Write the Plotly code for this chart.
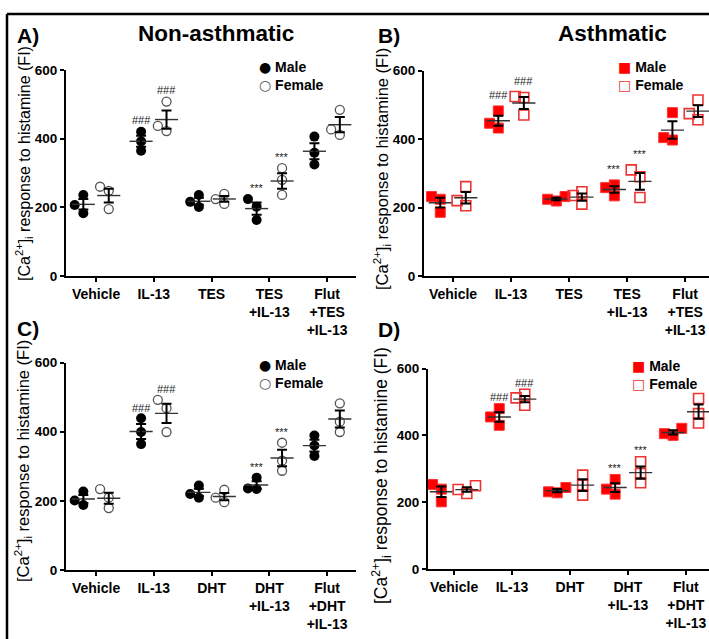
import plotly.graph_objects as go
import numpy as np

W, H = 709, 639

# ---------------- data ----------------
CATS_TES = ["Vehicle", "IL-13", "TES", "TES<br>+IL-13", "Flut<br>+TES<br>+IL-13"]
CATS_DHT = ["Vehicle", "IL-13", "DHT", "DHT<br>+IL-13", "Flut<br>+DHT<br>+IL-13"]
Y_TICKS = [0, 200, 400, 600]

A_male = [[183, 236, 207], [420, 392, 365], [236, 201, 216], [224, 202, 163], [406, 359, 325]]
A_female = [[248, 260, 195], [422, 508, 437], [239, 210, 224], [314, 280, 236], [411, 484, 427]]
B_male = [[224, 186, 232], [432, 482, 446], [219, 232, 224], [266, 234, 258], [397, 477, 404]]
B_female = [[205, 261, 220], [521, 470, 524], [246, 210, 235], [290, 310, 229], [456, 514, 474]]
C_male = [[188, 227, 201], [439, 399, 364], [209, 244, 220], [234, 267, 236], [389, 360, 330]]
C_female = [[234, 209, 179], [492, 468, 399], [232, 196, 209], [368, 316, 287], [482, 429, 399]]
D_male = [[239, 201, 253], [480, 455, 430], [228, 244, 231], [224, 268, 239], [421, 400, 405]]
D_female = [[249, 226, 238], [512, 490, 523], [281, 221, 251], [321, 286, 258], [510, 465, 437]]

# significance marks: (category index, text)
SIG = [(1, "###"), (3, "***")]

# ---------------- helpers ----------------
def px(x):
    return x / W

def py(y):
    return 1 - y / H

FONT = "Arial, Liberation Sans, sans-serif"

panels = [
    dict(k="", male=A_male, female=A_female, cats=CATS_TES, xd=(66, 356), yd=(70, 276),
         xr=[-0.52, 4.5], red=False, pad=33),
    dict(k="2", male=B_male, female=B_female, cats=CATS_TES, xd=(424, 709), yd=(70.5, 276),
         xr=[-0.5, 4.41], red=True, pad=46),
    dict(k="3", male=C_male, female=C_female, cats=CATS_DHT, xd=(66, 356), yd=(362.5, 570),
         xr=[-0.52, 4.5], red=False, pad=30),
    dict(k="4", male=D_male, female=D_female, cats=CATS_DHT, xd=(428, 709), yd=(368.5, 569),
         xr=[-0.45, 4.4], red=True, pad=34),
]

SEX_OFF = 0.22
HALF_MEAN = 0.2
SPREAD = 0.15


def swarm(vals, center, ppu, unit_px):
    """simple beeswarm: spread overlapping points horizontally"""
    order = np.argsort(vals)
    placed = []
    xs = [0.0] * len(vals)
    for i in order:
        v = vals[i]
        best, best_d = center, -1
        for k in [0, -1, 1]:
            x = center + k * SPREAD
            dmin = 1e9
            for (xx, vv) in placed:
                dx = (x - xx) * unit_px
                dy = (v - vv) * ppu
                dmin = min(dmin, (dx * dx + dy * dy) ** 0.5)
            if dmin >= 9.0:
                best = x
                break
            if dmin > best_d:
                best, best_d = x, dmin
        xs[i] = best
        placed.append((best, v))
    return xs


fig = go.Figure()
annotations = []

for p in panels:
    xa = "x" + p["k"]
    ya = "y" + p["k"]
    ppu = (p["yd"][1] - p["yd"][0]) / 600.0
    unit_px = (p["xd"][1] - p["xd"][0]) / (p["xr"][1] - p["xr"][0])
    if p["red"]:
        m_marker = dict(symbol="square", size=10, color="#ff0000",
                        line=dict(color="#ff3333", width=1))
        f_marker = dict(symbol="square-open", size=10, color="#ee3333",
                        line=dict(width=1.6))
    else:
        m_marker = dict(symbol="circle", size=10, color="#000000")
        f_marker = dict(symbol="circle", size=9, color="white",
                        line=dict(color="#555555", width=1.3))

    for sex, data, marker, off in [("Male", p["male"], m_marker, -SEX_OFF),
                                   ("Female", p["female"], f_marker, SEX_OFF)]:
        xs, ys = [], []
        means, sems, centers = [], [], []
        mx, my = [], []
        for ci, vals in enumerate(data):
            c = ci + off
            xs += swarm(vals, c, ppu, unit_px)
            ys += vals
            arr = np.array(vals, dtype=float)
            m = arr.mean()
            s = arr.std(ddof=1) / np.sqrt(len(arr))
            means.append(m)
            sems.append(s)
            centers.append(c)
            mx += [c - HALF_MEAN, c + HALF_MEAN, None]
            my += [m, m, None]
        fig.add_trace(go.Scatter(x=xs, y=ys, mode="markers", marker=marker,
                                 xaxis=xa, yaxis=ya, showlegend=False, cliponaxis=False))
        fig.add_trace(go.Scatter(x=mx, y=my, mode="lines",
                                 line=dict(color="#333333", width=1.4),
                                 xaxis=xa, yaxis=ya, showlegend=False, cliponaxis=False))
        fig.add_trace(go.Scatter(x=centers, y=means, mode="markers",
                                 marker=dict(size=1, color="rgba(0,0,0,0)"),
                                 error_y=dict(type="data", array=sems, color="black",
                                              thickness=2, width=5),
                                 xaxis=xa, yaxis=ya, showlegend=False, cliponaxis=False))
        for ci, txt in SIG:
            annotations.append(dict(x=ci + off, y=max(data[ci]) + p["pad"], xref=xa, yref=ya,
                                    text=txt, showarrow=False,
                                    font=dict(family=FONT, size=11, color="#222222"),
                                    xanchor="center", yanchor="middle"))

    axis_common = dict(showline=True, linecolor="black", linewidth=2, ticks="outside",
                       ticklen=4, tickwidth=2, tickcolor="black", showgrid=False,
                       zeroline=False, automargin=False)
    fig.update_layout(**{
        ("xaxis" + p["k"]): dict(domain=[px(p["xd"][0]), px(p["xd"][1])], range=p["xr"],
                                 tickvals=list(range(5)), ticktext=p["cats"],
                                 anchor=ya,
                                 tickfont=dict(family=FONT, size=14, color="black", weight="bold"),
                                 **axis_common),
        ("yaxis" + p["k"]): dict(domain=[py(p["yd"][1]), py(p["yd"][0])], range=[0, 600],
                                 tickvals=Y_TICKS, anchor=xa,
                                 tickfont=dict(family=FONT, size=13.5, color="black", weight="bold"),
                                 **axis_common),
    })

# ---------------- texts ----------------
YTITLE = "[Ca<sup>2+</sup>]<sub>i</sub> response to histamine (FI)"
for (x, y, s) in [(24, 164, 16), (382, 169, 16.5), (23, 461, 16.5), (381, 476, 17.5)]:
    annotations.append(dict(x=px(x), y=py(y), xref="paper", yref="paper", text=YTITLE,
                            textangle=-90, showarrow=False,
                            font=dict(family=FONT, size=s, color="black"),
                            xanchor="center", yanchor="middle"))

for (t, x, y) in [("A)", 15, 35), ("B)", 376, 35), ("C)", 15, 328), ("D)", 376, 329)]:
    annotations.append(dict(x=px(x), y=py(y), xref="paper", yref="paper", text="<b>%s</b>" % t,
                            showarrow=False, font=dict(family=FONT, size=21, color="black"),
                            xanchor="left", yanchor="middle"))

for (t, x, y) in [("Non-asthmatic", 216, 34), ("Asthmatic", 612, 34)]:
    annotations.append(dict(x=px(x), y=py(y), xref="paper", yref="paper", text="<b>%s</b>" % t,
                            showarrow=False, font=dict(family=FONT, size=22.5, color="black"),
                            xanchor="center", yanchor="middle"))

# legends (glyph + label in one text, two lines)
legs = [
    (257, 75.5, "●", "○", "black", "#555555"),
    (616, 75.5, "■", "□", "#ff0000", "#ee3333"),
    (257, 374, "●", "○", "black", "#555555"),
    (630, 375, "■", "□", "#ff0000", "#ee3333"),
]
for (x, yc, g1, g2, c1, c2) in legs:
    txt = ("<span style='font-family:DejaVu Sans;color:%s'>%s</span> <b>Male</b><br>"
           "<span style='font-family:DejaVu Sans;color:%s'>%s</span> <b>Female</b>"
           % (c1, g1, c2, g2))
    annotations.append(dict(x=px(x), y=py(yc), xref="paper", yref="paper", text=txt,
                            showarrow=False, align="left",
                            font=dict(family=FONT, size=14, color="black"),
                            xanchor="left", yanchor="middle"))

shapes = [
    dict(type="line", xref="paper", yref="paper", x0=px(7), x1=px(709), y0=py(14), y1=py(14),
         line=dict(color="black", width=2.5)),
    dict(type="line", xref="paper", yref="paper", x0=px(7), x1=px(7), y0=py(14), y1=py(639),
         line=dict(color="black", width=2.5)),
]

fig.update_layout(width=W, height=H, margin=dict(l=0, r=0, t=0, b=0, autoexpand=False),
                  plot_bgcolor="white", paper_bgcolor="white",
                  annotations=annotations, shapes=shapes, showlegend=False)

fig.write_html("out.html", config={"displayModeBar": False},
               post_script="document.body.style.margin='0';document.body.style.overflow='hidden';")
